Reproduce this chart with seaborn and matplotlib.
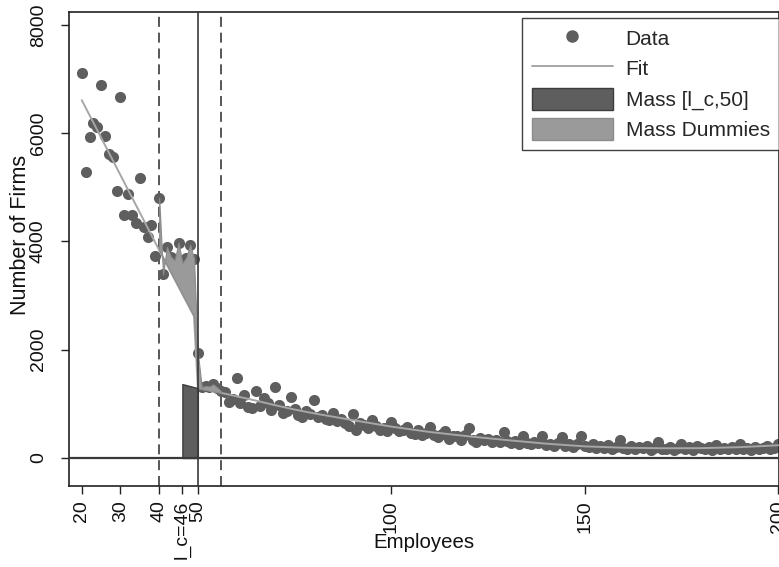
import numpy as np
import pandas as pd
import seaborn as sns
import matplotlib.pyplot as plt
from matplotlib.lines import Line2D
from matplotlib.patches import Patch

# --- data ---
employees = list(range(20, 201))
firms = [
    7110, 5290, 5930, 6180, 6120, 6890, 5950, 5610, 5560, 4930,   # 20-29
    6660, 4480, 4870, 4480, 4350, 5180, 4260, 4080, 4300, 3740,   # 30-39
    4810, 3390, 3900, 3720, 3650, 3980, 3600, 3700, 3940, 3680,   # 40-49
    1940, 1310, 1330, 1320, 1360, 1300, 1230, 1220, 1040, 1090,   # 50-59
    1480, 1010, 1160, 940, 920, 1230, 960, 1100, 1020, 890,       # 60-69
    1310, 980, 830, 870, 1120, 900, 800, 760, 870, 820,           # 70-79
    1070, 750, 790, 720, 700, 840, 690, 720, 650, 600,            # 80-89
    810, 520, 640, 610, 560, 700, 590, 520, 560, 490,             # 90-99
    670, 560, 500, 520, 570, 470, 440, 510, 430, 470,             # 100-109
    580, 420, 380, 440, 500, 360, 400, 410, 330, 420,             # 110-119
    560, 340, 300, 370, 330, 350, 300, 340, 290, 480,             # 120-129
    320, 280, 310, 260, 400, 280, 250, 300, 270, 400,             # 130-139
    240, 260, 230, 280, 390, 220, 250, 200, 260, 410,             # 140-149
    230, 200, 250, 180, 220, 190, 240, 170, 210, 330,             # 150-159
    190, 170, 230, 160, 200, 180, 220, 150, 190, 300,             # 160-169
    170, 160, 210, 150, 190, 260, 170, 200, 150, 230,             # 170-179
    180, 160, 200, 150, 240, 170, 190, 160, 210, 170,             # 180-189
    250, 160, 190, 150, 210, 170, 180, 220, 160, 190,             # 190-199
    250,                                                          # 200
]

fit_x = [20, 40, 49, 50, 55, 60, 65, 70, 75, 80, 90, 100, 110, 120,
         130, 140, 150, 160, 170, 180, 190, 200]
fit_y = [6610, 3840, 2620, 1290, 1220, 1140, 1060, 975, 895, 825, 700, 580,
         480, 400, 330, 265, 215, 190, 180, 182, 200, 235]

# counterfactual under the dummy window (40..56)
dummy_x = list(range(40, 57))
dummy_fit = [3840, 3705, 3570, 3430, 3300, 3160, 3025, 2890, 2755, 2620,
             1290, 1275, 1260, 1245, 1230, 1220, 1205]

# missing mass between l_c and 50
mass_x = [46, 50]
mass_top = [1365, 1290]

xticks = [20, 30, 40, 46, 50, 100, 150, 200]
xtick_labels = ["20", "30", "40", "l_c=46", "50", "100", "150", "200"]
yticks = [0, 2000, 4000, 6000, 8000]

df = pd.DataFrame({"Employees": employees, "Firms": firms})
fit_df = pd.DataFrame({"Employees": fit_x, "Firms": fit_y})

sns.set_theme(style="white")
plt.rcParams["font.family"] = ["Liberation Sans", "DejaVu Sans"]

dot_col = "#5e5e5e"
fit_col = "#a6a6a6"
dark_col = "#5e5e5e"
light_col = "#9a9a9a"
line_col = "#3a3a3a"

fig = plt.figure(figsize=(7.79, 5.67), dpi=100)
ax = fig.add_axes([0.0886, 0.142, 0.9114, 0.837])

sns.scatterplot(data=df, x="Employees", y="Firms", ax=ax, color=dot_col,
                s=64, linewidth=0, zorder=2, legend=False)
sns.lineplot(data=fit_df, x="Employees", y="Firms", ax=ax, color=fit_col,
             linewidth=1.4, sort=False, estimator=None, zorder=3)

dummy_data = firms[dummy_x[0] - employees[0]: dummy_x[-1] - employees[0] + 1]
ax.fill_between(dummy_x, dummy_data, dummy_fit, facecolor=light_col,
                edgecolor="#8c8c8c", linewidth=0.8, zorder=4)
ax.fill_between(mass_x, 0, mass_top, facecolor=dark_col,
                edgecolor="#3c3c3c", linewidth=1.0, zorder=4)

ax.axvline(40, color=line_col, lw=1.2, ls=(0, (6, 3.5)), zorder=1)
ax.axvline(56, color=line_col, lw=1.2, ls=(0, (6, 3.5)), zorder=1)
ax.axvline(50, color=line_col, lw=1.2, zorder=5)
ax.axhline(0, color=line_col, lw=1.6, zorder=5)

ax.set_xlim(16.7, 200.2)
ax.set_ylim(-526, 8240)
ax.set_xticks(xticks)
ax.set_xticklabels(xtick_labels, rotation=90, fontsize=14)
ax.set_yticks(yticks)
ax.set_yticklabels([str(v) for v in yticks], rotation=90, va="center",
                   fontsize=14)
ax.tick_params(axis="both", which="major", direction="out", length=6,
               width=1, color="#222222", labelcolor="#111111", bottom=True,
               left=True)
ax.tick_params(axis="y", pad=10)
ax.tick_params(axis="x", pad=4)
for sp in ax.spines.values():
    sp.set_color("#222222")
    sp.set_linewidth(1.2)

ax.set_xlabel("Employees", fontsize=14.7, color="#111111")
ax.set_ylabel("Number of Firms", fontsize=15.5, color="#111111")
ax.xaxis.set_label_coords(0.5, -0.098)
ax.yaxis.set_label_coords(-0.053, 0.53)

handles = [
    Line2D([], [], marker="o", color=dot_col, ls="none", markersize=8),
    Line2D([], [], color=fit_col, lw=1.4),
    Patch(facecolor=dark_col, edgecolor="#3c3c3c"),
    Patch(facecolor=light_col, edgecolor="#8c8c8c"),
]
leg = ax.legend(handles, ["Data", "Fit", "Mass [l_c,50]", "Mass Dummies"],
                loc="upper right", bbox_to_anchor=(1.0, 0.988),
                fontsize=15, frameon=True, fancybox=False,
                handlelength=3.9, handleheight=1.25, labelspacing=0.4,
                borderaxespad=0.0, borderpad=0.45, handletextpad=0.6)
leg.get_frame().set_edgecolor("#111111")
leg.get_frame().set_linewidth(1.0)

fig.savefig("out.png", dpi=100)
